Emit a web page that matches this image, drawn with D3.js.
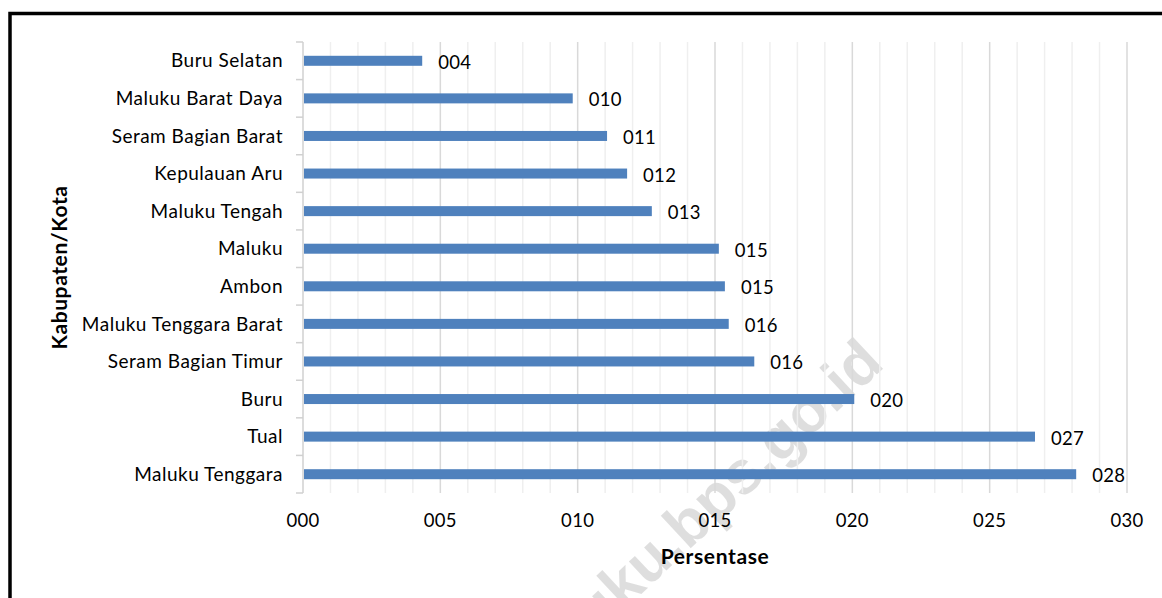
<!DOCTYPE html>
<html lang="id">
<head>
<meta charset="UTF-8">
<title>Persentase per Kabupaten/Kota</title>
<script src="https://d3js.org/d3.v7.min.js"></script>
<style>
  body { margin: 0; background: #fff; }
  svg { display: block; font-family: Lato, "Open Sans", sans-serif; }
  .cat-label { font-size: 19px; letter-spacing: 0.5px; fill: #000; }
  .val-label { font-size: 18.5px; letter-spacing: 0.3px; fill: #000; }
  .x-tick { font-size: 18.5px; letter-spacing: 0.3px; fill: #000; }
  .axis-title { font-size: 21px; font-weight: bold; letter-spacing: 0.6px; fill: #000; }
</style>
</head>
<body>
<div id="chart"></div>
<script>
// data (top to bottom)
const categories = ["Buru Selatan", "Maluku Barat Daya", "Seram Bagian Barat", "Kepulauan Aru",
  "Maluku Tengah", "Maluku", "Ambon", "Maluku Tenggara Barat", "Seram Bagian Timur",
  "Buru", "Tual", "Maluku Tenggara"];
const values = [4.34, 9.82, 11.07, 11.8, 12.7, 15.14, 15.36, 15.5, 16.43, 20.07, 26.65, 28.15];
const valueLabels = ["004", "010", "011", "012", "013", "015", "015", "016", "016", "020", "027", "028"];
const xTicks = [0, 5, 10, 15, 20, 25, 30];
const xTickLabels = ["000", "005", "010", "015", "020", "025", "030"];

const width = 1162, height = 598;
const plot = { left: 303, right: 1127, top: 42, bottom: 493 };

const svg = d3.select("#chart").append("svg")
  .attr("width", width).attr("height", height);

// frame
svg.append("path")
  .attr("d", `M10,${height + 5} L10,13.5 L${width + 5},13.5`)
  .attr("fill", "none").attr("stroke", "#000").attr("stroke-width", 3.5);

const x = d3.scaleLinear().domain([0, 30]).range([plot.left, plot.right]);
const y = d3.scaleBand().domain(categories).range([plot.top, plot.bottom]);

// watermark (behind the chart)
svg.append("text")
  .attr("transform", "translate(886,366) rotate(-43)")
  .attr("text-anchor", "end")
  .style("font-size", "61px")
  .style("font-weight", "bold")
  .style("font-family", "Liberation Sans, Arial, sans-serif")
  .attr("fill", "#000")
  .attr("fill-opacity", 0.13)
  .text("maluku.bps.go.id");

// minor gridlines
svg.append("g").selectAll("line")
  .data(d3.range(1, 30).filter(d => d % 5 !== 0))
  .join("line")
  .attr("x1", d => x(d)).attr("x2", d => x(d))
  .attr("y1", plot.top).attr("y2", plot.bottom)
  .attr("stroke", "#efefef").attr("stroke-width", 1.5);

// major gridlines
svg.append("g").selectAll("line")
  .data(xTicks.slice(1))
  .join("line")
  .attr("x1", d => x(d)).attr("x2", d => x(d))
  .attr("y1", plot.top).attr("y2", plot.bottom)
  .attr("stroke", "#d9d9d9").attr("stroke-width", 1.5);

// y axis line + ticks at category boundaries
const yAxis = svg.append("g");
yAxis.append("line")
  .attr("x1", x(0)).attr("x2", x(0))
  .attr("y1", plot.top).attr("y2", plot.bottom)
  .attr("stroke", "#d0d0d0").attr("stroke-width", 1.5);
yAxis.selectAll("line.tick")
  .data(d3.range(categories.length + 1))
  .join("line")
  .attr("class", "tick")
  .attr("x1", x(0) - 7).attr("x2", x(0))
  .attr("y1", i => plot.top + i * y.step())
  .attr("y2", i => plot.top + i * y.step())
  .attr("stroke", "#d0d0d0").attr("stroke-width", 1.5);

// bars
const barH = 10;
svg.append("g").selectAll("rect")
  .data(categories)
  .join("rect")
  .attr("x", x(0) + 1)
  .attr("y", d => y(d) + y.bandwidth() / 2 - barH / 2)
  .attr("width", (d, i) => x(values[i]) - x(0) - 1)
  .attr("height", barH)
  .attr("fill", "#4f81bd");

// category labels
svg.append("g").selectAll("text")
  .data(categories)
  .join("text")
  .attr("class", "cat-label")
  .attr("x", x(0) - 20)
  .attr("y", d => y(d) + y.bandwidth() / 2)
  .attr("dy", "0.35em")
  .attr("text-anchor", "end")
  .text(d => d);

// value labels
svg.append("g").selectAll("text")
  .data(categories)
  .join("text")
  .attr("class", "val-label")
  .attr("x", (d, i) => x(values[i]) + 16)
  .attr("y", d => y(d) + y.bandwidth() / 2 + 1.5)
  .attr("dy", "0.35em")
  .text((d, i) => valueLabels[i]);

// x tick labels
svg.append("g").selectAll("text")
  .data(xTicks)
  .join("text")
  .attr("class", "x-tick")
  .attr("x", d => x(d))
  .attr("y", 521)
  .attr("dy", "0.35em")
  .attr("text-anchor", "middle")
  .text((d, i) => xTickLabels[i]);

// axis titles
svg.append("text")
  .attr("class", "axis-title")
  .attr("x", (plot.left + plot.right) / 2)
  .attr("y", 557)
  .attr("dy", "0.35em")
  .attr("text-anchor", "middle")
  .text("Persentase");

svg.append("text")
  .attr("class", "axis-title")
  .attr("transform", `translate(60,${(plot.top + plot.bottom) / 2}) rotate(-90)`)
  .attr("dy", "0.35em")
  .attr("text-anchor", "middle")
  .text("Kabupaten/Kota");
</script>
</body>
</html>
